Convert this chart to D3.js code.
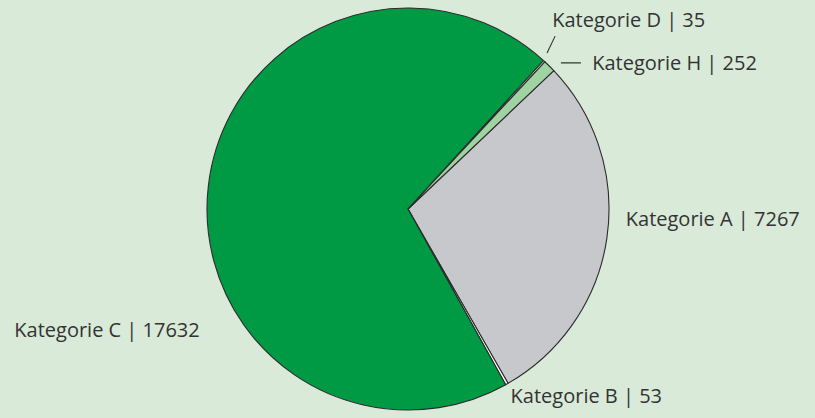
<!DOCTYPE html>
<html>
<head>
<meta charset="utf-8">
<script src="https://cdn.jsdelivr.net/npm/d3@7"></script>
<style>
  html, body { margin: 0; padding: 0; background: #d9ead9; }
  #chart { width: 815px; height: 418px; }
  text { font-family: 'Open Sans', sans-serif; font-size: 20px; fill: #333; }
</style>
</head>
<body>
<div id="chart"></div>
<script>
(function(d3) {
  'use strict';

  var categories = ['Kategorie A', 'Kategorie B', 'Kategorie C', 'Kategorie D', 'Kategorie H'];
  var values = [7267, 53, 17632, 35, 252];
  var sliceColors = ['#c6c8cb', '#ffffff', '#009a44', '#ffffff', '#9fd3a1'];

  // label placement around the pie: angle (deg, clockwise from 12 o'clock) and distance from centre
  var labelAngles = [92.6, 151.2, 239.8, 37.3, 51.6];
  var labelRadii = [218, 213, 241, 238, 235];
  var labelAnchors = ['start', 'start', 'end', 'start', 'start'];

  var width = 815;
  var height = 418;
  var radius = 201;
  var cx = 408, cy = 209;
  var startDeg = 46.5;

  var svg = d3.select('#chart')
    .append('svg')
    .attr('width', width)
    .attr('height', height);

  var g = svg.append('g')
    .attr('transform', 'translate(' + cx + ',' + cy + ')');

  var dataset = categories.map(function(c, i) {
    return { label: c, count: values[i], color: sliceColors[i] };
  });

  var start = startDeg * Math.PI / 180;
  var pie = d3.pie()
    .value(function(d) { return d.count; })
    .sort(null)
    .startAngle(start)
    .endAngle(start + 2 * Math.PI);

  var arc = d3.arc().innerRadius(0).outerRadius(radius);

  var arcs = pie(dataset);

  g.selectAll('path.slice')
    .data(arcs)
    .enter()
    .append('path')
    .attr('class', 'slice')
    .attr('d', arc)
    .attr('fill', function(d) { return d.data.color; })
    .attr('stroke', '#2b2b2b')
    .attr('stroke-width', 1.1)
    .attr('stroke-linejoin', 'round');

  function polar(deg, r) {
    var a = deg * Math.PI / 180;
    return [r * Math.sin(a), -r * Math.cos(a)];
  }

  // short leader lines for the two thin slices near the top (D, H)
  var leaders = [
    { a0: 41.7, r0: 209, a1: 40.4, r1: 227 },
    { a0: 46.3, r0: 211.5, a1: 49.8, r1: 226.4 }
  ];
  g.selectAll('line.leader')
    .data(leaders)
    .enter()
    .append('line')
    .attr('class', 'leader')
    .attr('x1', function(d) { return polar(d.a0, d.r0)[0]; })
    .attr('y1', function(d) { return polar(d.a0, d.r0)[1]; })
    .attr('x2', function(d) { return polar(d.a1, d.r1)[0]; })
    .attr('y2', function(d) { return polar(d.a1, d.r1)[1]; })
    .attr('stroke', '#333')
    .attr('stroke-width', 1.1);

  g.selectAll('text.label')
    .data(arcs)
    .enter()
    .append('text')
    .attr('class', 'label')
    .attr('text-anchor', function(d, i) { return labelAnchors[i]; })
    .attr('dy', '0.35em')
    .attr('x', function(d, i) { return polar(labelAngles[i], labelRadii[i])[0]; })
    .attr('y', function(d, i) { return polar(labelAngles[i], labelRadii[i])[1]; })
    .text(function(d) { return d.data.label + ' | ' + d.data.count; });

})(window.d3);
</script>
</body>
</html>
